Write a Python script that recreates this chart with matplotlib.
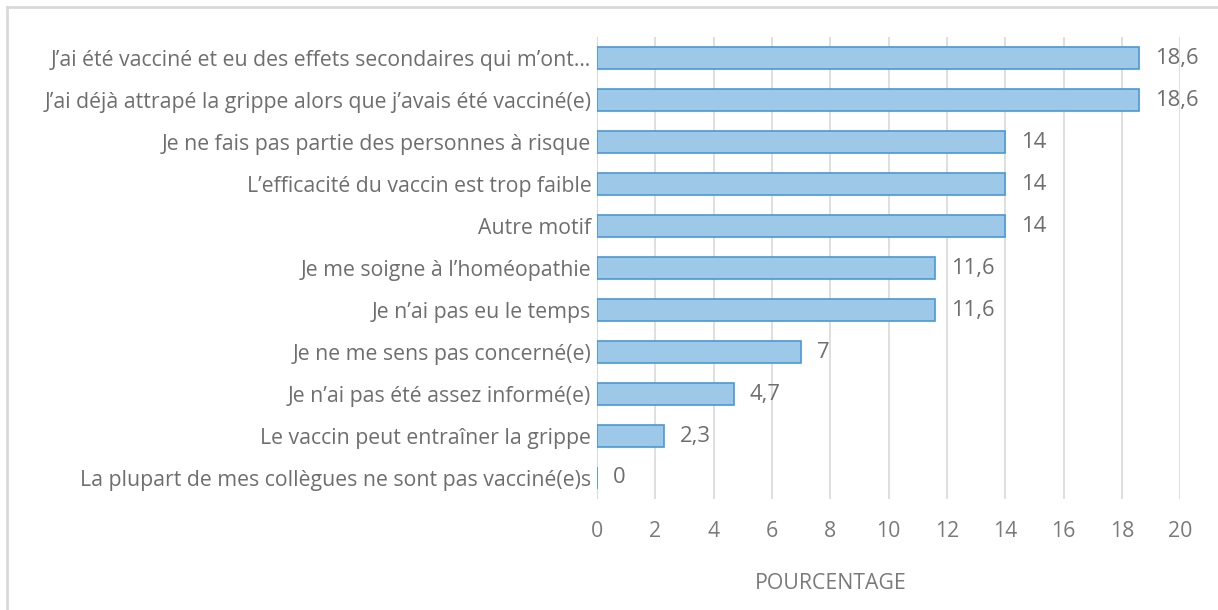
import matplotlib
matplotlib.use("Agg")
import matplotlib.pyplot as plt
from matplotlib.lines import Line2D

# Raisons de non-vaccination (de haut en bas)
categories = [
    "J\u2019ai été vacciné et eu des effets secondaires qui m\u2019ont\u2026",
    "J\u2019ai déjà attrapé la grippe alors que j\u2019avais été vacciné(e)",
    "Je ne fais pas partie des personnes à risque",
    "L\u2019efficacité du vaccin est trop faible",
    "Autre motif",
    "Je me soigne à l\u2019homéopathie",
    "Je n\u2019ai pas eu le temps",
    "Je ne me sens pas concerné(e)",
    "Je n\u2019ai pas été assez informé(e)",
    "Le vaccin peut entraîner la grippe",
    "La plupart de mes collègues ne sont pas vacciné(e)s",
]
values = [18.6, 18.6, 14, 14, 14, 11.6, 11.6, 7, 4.7, 2.3, 0]
value_labels = ["18,6", "18,6", "14", "14", "14", "11,6", "11,6", "7", "4,7", "2,3", "0"]
xticks = [0, 2, 4, 6, 8, 10, 12, 14, 16, 18, 20]

plt.rcParams['font.family'] = ['Open Sans', 'DejaVu Sans']
grey = '#6E6E6E'
fs = 15.3

fig = plt.figure(figsize=(12.18, 6.10), dpi=100)
ax = fig.add_axes([0.490, 0.182, 0.479, 0.757])

ypos = list(range(len(categories)))
ax.barh(ypos, values, height=0.53, color='#9DC8E8', edgecolor='#4A98D6',
        linewidth=1.2, zorder=3)

for y, v, lab in zip(ypos, values, value_labels):
    ax.text(v + 0.55, y, lab, va='center', ha='left', fontsize=fs + 0.5, color=grey)

ax.set_yticks(ypos)
ax.set_yticklabels(categories, fontsize=fs, color=grey)
ax.set_ylim(len(categories) - 0.5, -0.5)
ax.set_xlim(0, 20)
ax.set_xticks(xticks)
ax.set_xticklabels([str(t) for t in xticks], fontsize=fs, color='#7A7A7A')
ax.tick_params(axis='both', length=0)
ax.tick_params(axis='x', pad=16)
ax.tick_params(axis='y', pad=4)
ax.grid(axis='x', color='#D9D9D9', linewidth=1.2, zorder=0)
for s in ax.spines.values():
    s.set_visible(False)
ax.axvline(0, color='#D9D9D9', linewidth=1.2, zorder=2)

ax.set_xlabel("POURCENTAGE", fontsize=fs, color='#7A7A7A')
ax.xaxis.set_label_coords(0.401, -0.182)
ax.xaxis.label.set_va('center')

# cadre gris clair (haut et gauche)
fig.add_artist(Line2D([7 / 1218, 7 / 1218], [0, 1 - 7 / 610], color='#D9D9D9', linewidth=2))
fig.add_artist(Line2D([7 / 1218, 1], [1 - 7 / 610, 1 - 7 / 610], color='#D9D9D9', linewidth=2))

fig.savefig("out.png", dpi=100)
